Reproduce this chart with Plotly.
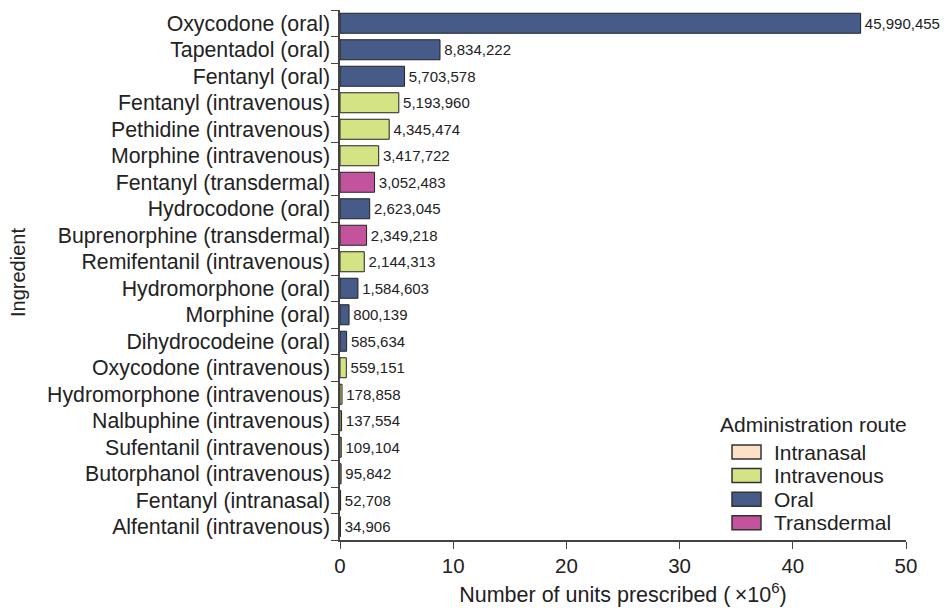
import plotly.graph_objects as go

ingredients = [
    "Oxycodone (oral)", "Tapentadol (oral)", "Fentanyl (oral)", "Fentanyl (intravenous)",
    "Pethidine (intravenous)", "Morphine (intravenous)", "Fentanyl (transdermal)",
    "Hydrocodone (oral)", "Buprenorphine (transdermal)", "Remifentanil (intravenous)",
    "Hydromorphone (oral)", "Morphine (oral)", "Dihydrocodeine (oral)",
    "Oxycodone (intravenous)", "Hydromorphone (intravenous)", "Nalbuphine (intravenous)",
    "Sufentanil (intravenous)", "Butorphanol (intravenous)", "Fentanyl (intranasal)",
    "Alfentanil (intravenous)",
]
units = [
    45990455, 8834222, 5703578, 5193960, 4345474, 3417722, 3052483, 2623045, 2349218,
    2144313, 1584603, 800139, 585634, 559151, 178858, 137554, 109104, 95842, 52708, 34906,
]
routes = [
    "Oral", "Oral", "Oral", "Intravenous", "Intravenous", "Intravenous", "Transdermal",
    "Oral", "Transdermal", "Intravenous", "Oral", "Oral", "Oral", "Intravenous",
    "Intravenous", "Intravenous", "Intravenous", "Intravenous", "Intranasal", "Intravenous",
]
route_order = ["Intranasal", "Intravenous", "Oral", "Transdermal"]
route_colors = {"Intranasal": "#fde1c6", "Intravenous": "#d4e383",
                "Oral": "#475b89", "Transdermal": "#c4539d"}
x_ticks = [0, 10, 20, 30, 40, 50]

W, H = 941, 600
ML, MR, MT, MB = 332, 43, 2, 68
PW, PH = W - ML - MR, H - MT - MB


def px_x(px):  # figure pixel -> paper x
    return (px - ML) / PW


def px_y(py):  # figure pixel (from top) -> paper y
    return (H - MB - py) / PH


fig = go.Figure()
for r in route_order:
    ys = [ing for ing, rr in zip(ingredients, routes) if rr == r]
    xs = [u / 1e6 for u, rr in zip(units, routes) if rr == r]
    txt = [f"\u200a{u:,}" for u, rr in zip(units, routes) if rr == r]
    fig.add_trace(go.Bar(
        y=ys, x=xs, orientation="h", name=r, text=txt, textposition="outside",
        constraintext="none", textfont=dict(size=15, color="#222"), cliponaxis=False,
        marker=dict(color=route_colors[r], line=dict(color="#222", width=1)),
        showlegend=False,
    ))

# custom legend (swatches + labels)
shapes, annots = [], []
leg_left, box_w, box_h, row0, row_step = 724, 29, 14, 444, 23.6
annots.append(dict(text="Administration route", x=px_x(710), y=px_y(417), xref="paper",
                   yref="paper", xanchor="left", yanchor="middle", showarrow=False,
                   font=dict(size=21)))
for i, r in enumerate(route_order):
    cy = row0 + i * row_step
    shapes.append(dict(type="rect", xref="paper", yref="paper",
                       x0=px_x(leg_left), x1=px_x(leg_left + box_w),
                       y0=px_y(cy - box_h / 2), y1=px_y(cy + box_h / 2),
                       fillcolor=route_colors[r], line=dict(color="#333", width=1.5)))
    annots.append(dict(text=r, x=px_x(leg_left + box_w + 11), y=px_y(cy), xref="paper",
                       yref="paper", xanchor="left", yanchor="middle", showarrow=False,
                       font=dict(size=21)))

annots.append(dict(text="Ingredient", textangle=-90, x=px_x(10), xref="paper",
                   xanchor="center", y=px_y(265), yref="paper", showarrow=False,
                   font=dict(size=20)))

fig.update_layout(
    width=W, height=H, barmode="overlay", bargap=0.245,
    margin=dict(l=ML, r=MR, t=MT, b=MB),
    paper_bgcolor="white", plot_bgcolor="white",
    font=dict(family="Liberation Sans, Arial, sans-serif", size=20, color="#222"),
    showlegend=False,
    xaxis=dict(range=[0, 50], tickvals=x_ticks, showline=True, linecolor="#444",
               linewidth=1.5, ticks="outside", ticklen=7, tickcolor="#444",
               showgrid=False, zeroline=False, tickfont=dict(size=20.5),
               title=dict(text="Number of units prescribed (\u2009\u00d710<sup>6</sup>)",
                          font=dict(size=21.5), standoff=11)),
    yaxis=dict(categoryorder="array", categoryarray=ingredients[::-1],
               showline=True, linecolor="#444", linewidth=1.5, ticks="outside",
               ticklen=7, tickcolor="#444", tickson="boundaries", showgrid=False,
               tickfont=dict(size=21.3), ticklabelstandoff=4, automargin=False),
    shapes=shapes,
    annotations=annots,
)
fig.write_html("out.html")
